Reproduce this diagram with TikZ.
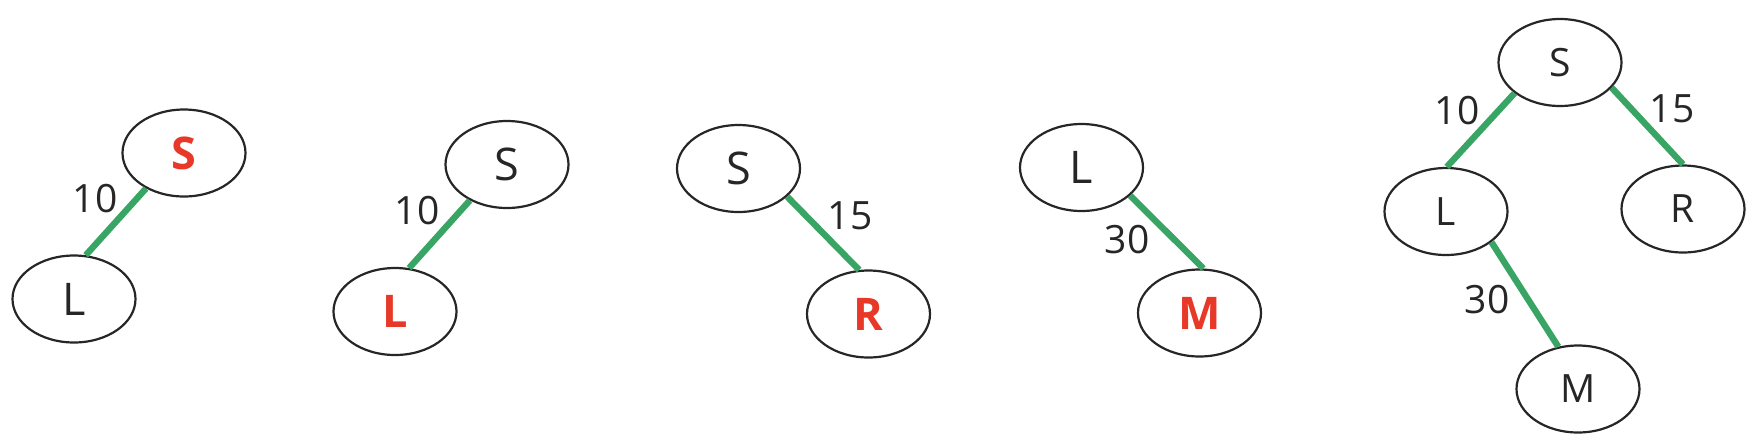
\documentclass[tikz,border=0pt]{standalone}
\usepackage{fontspec}
\setmainfont{Open Sans}
\usetikzlibrary{shapes.geometric}
\definecolor{edgegreen}{RGB}{56,165,100}
\definecolor{hired}{RGB}{232,56,40}
\definecolor{txt}{RGB}{38,38,38}
\tikzset{
  tnode/.style={ellipse, draw=black!85, line width=1.1pt, minimum width=61.5pt, minimum height=43.5pt, inner sep=0pt, text=txt, font=\fontsize{22.5}{26}\selectfont},
  tnodes/.style={tnode, font=\fontsize{19.5}{23}\selectfont},
  hot/.style={text=hired, font=\fontsize{22.5}{26}\selectfont\bfseries},
  tedge/.style={draw=edgegreen, line width=3.2pt},
  wlabel/.style={text=txt, inner sep=0pt, font=\fontsize{19.5}{23}\selectfont}
}
\begin{document}
\begin{tikzpicture}[x=0.5pt, y=-0.5pt]
\useasboundingbox (0,0) rectangle (1756,446);
% tree 1
\node[tnode, hot] (aS) at (184,153) {S};
\node[tnode] (aL) at (74,299) {L};
\draw[tedge] (aS.223) -- (aL.75);
\node[wlabel] (aw) at (95,199) {10};
% tree 2
\node[tnode] (bS) at (507,164.5) {S};
\node[tnode, hot] (bL) at (395,311.5) {L};
\draw[tedge] (bS.224) -- (bL.72);
\node[wlabel] (bw) at (417,211) {10};
% tree 3
\node[tnode] (cS) at (738.5,168.5) {S};
\node[tnode, hot] (cR) at (868.5,314) {R};
\draw[tedge] (cS.330) -- (cR.102);
\node[wlabel] (cw) at (850,216) {15};
% tree 4
\node[tnode] (dL) at (1081.5,167.5) {L};
\node[tnode, hot] (dM) at (1199.5,313) {M};
\draw[tedge] (dL.330) -- (dM.85);
\node[wlabel] (dw) at (1127,240) {30};
% tree 5
\node[tnodes] (eS) at (1560,62.5) {S};
\node[tnodes] (eL) at (1446,211.5) {L};
\node[tnodes] (eR) at (1683,209) {R};
\node[tnodes] (eM) at (1578,389) {M};
\draw[tedge] (eS.214) -- (eL.89);
\draw[tedge] (eS.334) -- (eR.90);
\draw[tedge] (eL.326) -- (eM.115);
\node[wlabel] (ew1) at (1457,110.5) {10};
\node[wlabel] (ew2) at (1672,109) {15};
\node[wlabel] (ew3) at (1487,300) {30};
\end{tikzpicture}
\end{document}
